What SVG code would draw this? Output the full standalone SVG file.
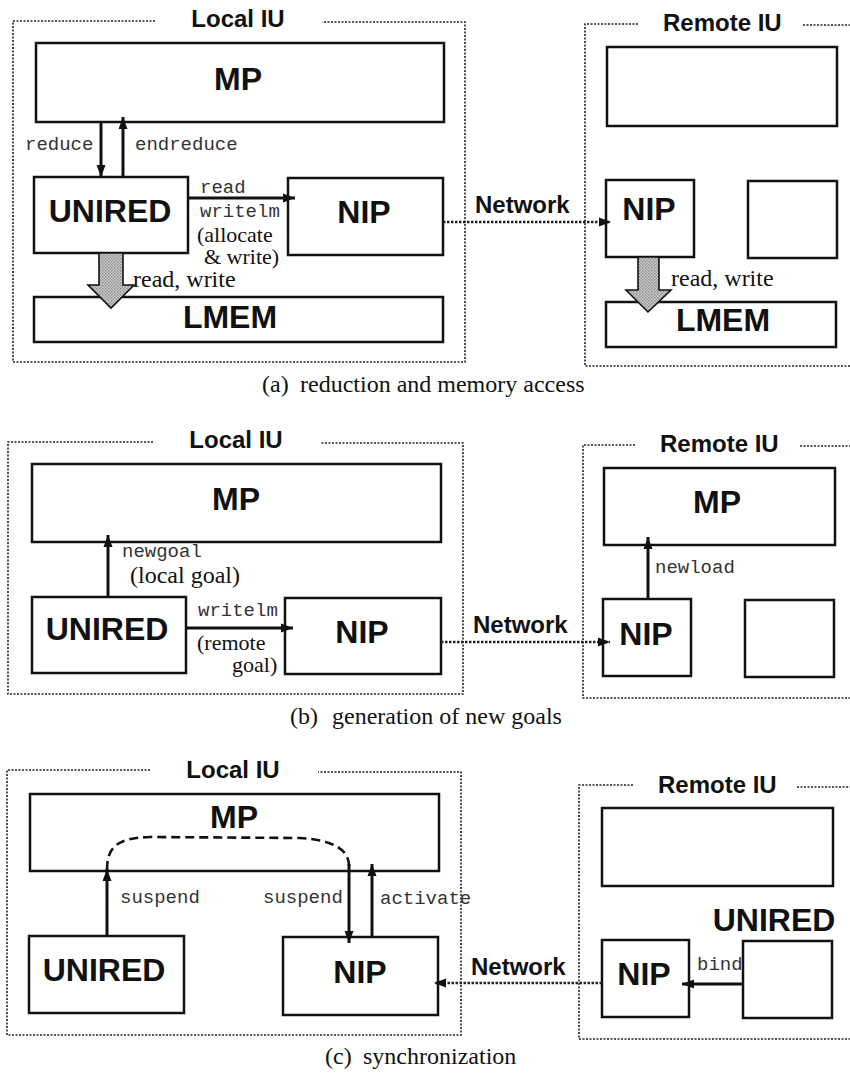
<svg xmlns="http://www.w3.org/2000/svg" width="850" height="1073" viewBox="0 0 850 1073">
<style>
.bg{fill:#fff}
.frame{fill:none;stroke:#222;stroke-width:1.6;stroke-dasharray:2 1.5}
.box{fill:#fff;stroke:#111;stroke-width:2.5}
.big{font-family:"Liberation Sans",Arial,sans-serif;font-weight:bold;font-size:32px;fill:#111;text-anchor:middle}
.title{font-family:"Liberation Sans",Arial,sans-serif;font-weight:bold;font-size:24px;fill:#111}
.mono{font-family:"Liberation Mono","Courier New",monospace;font-size:19px;fill:#333}
.serif{font-family:"Liberation Serif","Times New Roman",serif;font-size:24px;fill:#111}
.lbl{font-family:"Liberation Serif","Times New Roman",serif;font-size:22px;fill:#111}
.arrow{fill:none;stroke:#111;stroke-width:3;marker-end:url(#ah)}
.net{fill:none;stroke:#222;stroke-width:2.6;stroke-dasharray:2.5 1.5;marker-end:url(#ah)}
.dash{fill:none;stroke:#111;stroke-width:2.6;stroke-dasharray:9 5}
.fat{fill:url(#stip);stroke:#111;stroke-width:1.6}
</style>
<defs>
<marker id="ah" markerUnits="userSpaceOnUse" markerWidth="13" markerHeight="10" refX="12" refY="5" orient="auto">
<path d="M0,0.5 L12,5 L0,9.5 z" fill="#111"/>
</marker>
<pattern id="stip" width="3" height="3" patternUnits="userSpaceOnUse">
<rect width="3" height="3" fill="#d0d0d0"/>
<rect width="1.5" height="1.5" fill="#888"/>
<rect x="1.5" y="1.5" width="1.5" height="1.5" fill="#999"/>
</pattern>
</defs>
<rect class="bg" width="850" height="1073"/>

<!-- ================= Panel (a) ================= -->
<g id="a-local-iu">
<path class="frame" d="M155,21 L13,21 L13,362 L465,362 L465,22 L322,22"/>
<text class="title" x="238" y="27" text-anchor="middle">Local IU</text>
</g>
<g id="a-remote-iu">
<path class="frame" d="M638,24 L585,24 L585,366 L852,366 M803,25 L852,25"/>
<text class="title" x="663" y="31">Remote IU</text>
</g>
<g id="a-mp"><rect class="box" x="36" y="43" width="408" height="79"/><text class="big" x="238" y="90">MP</text></g>
<g id="a-unired"><rect class="box" x="34" y="177" width="154" height="76"/><text class="big" x="110" y="222">UNIRED</text></g>
<g id="a-nip"><rect class="box" x="288" y="178" width="155" height="77"/><text class="big" x="364" y="223">NIP</text></g>
<g id="a-lmem"><rect class="box" x="34" y="297" width="409" height="45"/><text class="big" x="230" y="328">LMEM</text></g>
<g id="a-remote-mp"><rect class="box" x="607" y="47" width="230" height="79"/></g>
<g id="a-remote-nip"><rect class="box" x="606" y="180" width="88" height="77"/><text class="big" x="649" y="220">NIP</text></g>
<g id="a-remote-box"><rect class="box" x="748" y="181" width="89" height="77"/></g>
<g id="a-remote-lmem"><rect class="box" x="606" y="302" width="230" height="45"/><text class="big" x="723" y="331">LMEM</text></g>

<g id="a-connectors">
<line class="arrow" x1="101" y1="122" x2="101" y2="177"/>
<line class="arrow" x1="123" y1="177" x2="123" y2="117"/>
<line class="arrow" x1="188" y1="198" x2="295" y2="198"/>
<line class="net" x1="443" y1="222" x2="611" y2="222"/>
<polygon class="fat" points="99,253 123,253 123,285 134,285 111,308 88,285 99,285"/>
<polygon class="fat" points="638,257 659,257 659,290 671,290 648,312 626,290 638,290"/>
<text class="mono" x="25" y="150">reduce</text>
<text class="mono" x="135" y="150">endreduce</text>
<text class="mono" x="200" y="193">read</text>
<text class="mono" x="200" y="217">writelm</text>
<text class="lbl" x="197" y="242">(allocate</text>
<text class="lbl" x="204" y="264">&amp; write)</text>
<text class="serif" x="133" y="287">read, write</text>
<text class="title" x="475" y="213">Network</text>
<text class="serif" x="671" y="286">read, write</text>
</g>
<text class="serif" x="262" y="392">(a)</text>
<text class="serif" x="300" y="392">reduction and memory access</text>

<!-- ================= Panel (b) ================= -->
<g id="b-local-iu">
<path class="frame" d="M153,442 L8,442 L8,694 L463,694 L463,443 L320,443"/>
<text class="title" x="236" y="448" text-anchor="middle">Local IU</text>
</g>
<g id="b-remote-iu">
<path class="frame" d="M635,445 L583,445 L583,698 L852,698 M800,446 L852,446"/>
<text class="title" x="660" y="452">Remote IU</text>
</g>
<g id="b-mp"><rect class="box" x="32" y="464" width="409" height="78"/><text class="big" x="236" y="510">MP</text></g>
<g id="b-unired"><rect class="box" x="32" y="597" width="154" height="76"/><text class="big" x="107" y="640">UNIRED</text></g>
<g id="b-nip"><rect class="box" x="285" y="598" width="156" height="76"/><text class="big" x="362" y="643">NIP</text></g>
<g id="b-remote-mp"><rect class="box" x="604" y="468" width="231" height="77"/><text class="big" x="717" y="513">MP</text></g>
<g id="b-remote-nip"><rect class="box" x="603" y="599" width="88" height="77"/><text class="big" x="646" y="645">NIP</text></g>
<g id="b-remote-box"><rect class="box" x="745" y="600" width="89" height="77"/></g>

<g id="b-connectors">
<line class="arrow" x1="108" y1="597" x2="108" y2="535"/>
<line class="arrow" x1="186" y1="628" x2="293" y2="628"/>
<line class="net" x1="441" y1="642" x2="610" y2="642"/>
<line class="arrow" x1="648" y1="599" x2="648" y2="537"/>
<text class="mono" x="122" y="557">newgoal</text>
<text class="serif" x="130" y="583">(local goal)</text>
<text class="mono" x="198" y="616">writelm</text>
<text class="lbl" x="197" y="650">(remote</text>
<text class="lbl" x="232" y="672">goal)</text>
<text class="title" x="473" y="633">Network</text>
<text class="mono" x="655" y="573">newload</text>
</g>
<text class="serif" x="290" y="724">(b)</text>
<text class="serif" x="332" y="724">generation of new goals</text>

<!-- ================= Panel (c) ================= -->
<g id="c-local-iu">
<path class="frame" d="M150,770 L7,770 L7,1035 L461,1035 L461,772 L318,772"/>
<text class="title" x="233" y="778" text-anchor="middle">Local IU</text>
</g>
<g id="c-remote-iu">
<path class="frame" d="M633,785 L579,785 L579,1039 L852,1039 M797,787 L852,787"/>
<text class="title" x="658" y="793">Remote IU</text>
</g>
<g id="c-mp"><rect class="box" x="30" y="794" width="409" height="77"/><text class="big" x="234" y="828">MP</text></g>
<g id="c-unired"><rect class="box" x="29" y="936" width="155" height="77"/><text class="big" x="104" y="981">UNIRED</text></g>
<g id="c-nip"><rect class="box" x="283" y="937" width="155" height="78"/><text class="big" x="360" y="983">NIP</text></g>
<g id="c-remote-mp"><rect class="box" x="602" y="808" width="231" height="78"/></g>
<g id="c-remote-nip"><rect class="box" x="602" y="940" width="87" height="77"/><text class="big" x="644" y="985">NIP</text></g>
<g id="c-remote-unired"><rect class="box" x="743" y="941" width="89" height="77"/><text class="big" x="774" y="931">UNIRED</text></g>

<g id="c-connectors">
<path class="dash" d="M107,870 C107,846 118,838 150,837 L300,838 C334,840 349,850 349,866"/>
<line class="arrow" x1="107" y1="936" x2="107" y2="869"/>
<line class="arrow" x1="349" y1="864" x2="349" y2="943"/>
<line class="arrow" x1="372" y1="937" x2="372" y2="864"/>
<line class="net" x1="602" y1="983" x2="434" y2="983"/>
<line class="arrow" x1="743" y1="984" x2="682" y2="984"/>
<text class="mono" x="120" y="903">suspend</text>
<text class="mono" x="263" y="903">suspend</text>
<text class="mono" x="380" y="904">activate</text>
<text class="title" x="471" y="975">Network</text>
<text class="mono" x="697" y="970">bind</text>
</g>
<text class="serif" x="325" y="1064">(c)</text>
<text class="serif" x="363" y="1064">synchronization</text>
</svg>
